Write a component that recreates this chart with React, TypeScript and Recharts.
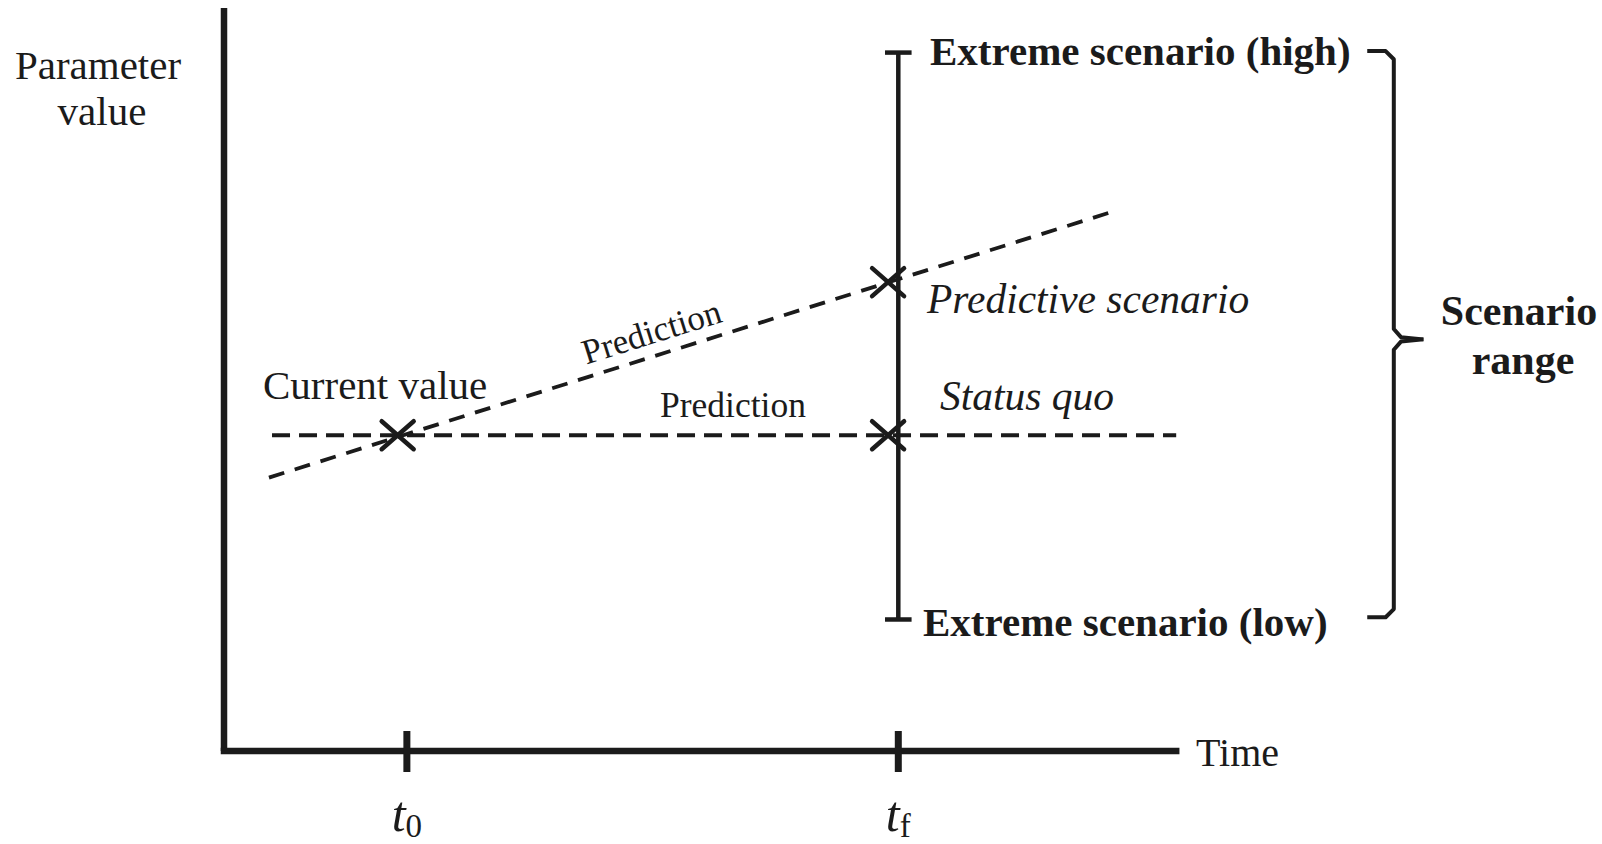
import React from 'react';
import { ComposedChart, Line, ReferenceLine, Scatter, XAxis, YAxis } from 'recharts';

// time axis: the two marked instants
const timeTicks = [1.79, 6.6];
const timeTickSubs = ['0', 'f'];

// dashed lines
const statusQuo = [
  { x: 0.47, y: 42.5 },
  { x: 9.32, y: 42.5 },
];
const prediction = [
  { x: 0.44, y: 36.8 },
  { x: 8.7, y: 72.6 },
];

// the x marks (current value, predictive scenario, status quo at tf)
const markers = [
  { x: 1.7, y: 42.5 },
  { x: 6.5, y: 63.1 },
  { x: 6.5, y: 42.5 },
];

// extreme scenarios at tf (low, high)
const scenarioRange = [
  { x: 6.6, y: 17.7 },
  { x: 6.6, y: 94.0 },
];

// curly brace for the scenario range
const braceUpper = [
  { x: 11.19, y: 94.2 },
  { x: 11.37, y: 94.2 },
  { x: 11.45, y: 93.1 },
  { x: 11.45, y: 56.8 },
  { x: 11.52, y: 55.7 },
  { x: 11.74, y: 55.4 },
];
const braceLower = [
  { x: 11.19, y: 18.0 },
  { x: 11.37, y: 18.0 },
  { x: 11.45, y: 19.1 },
  { x: 11.45, y: 54.0 },
  { x: 11.52, y: 55.1 },
  { x: 11.74, y: 55.4 },
];

const timeAxisEnd = 9.32;

const INK = '#1b1b1b';
const SERIF = '"Liberation Serif", "DejaVu Serif", serif';

const Cross = (props: any) => {
  const { cx, cy } = props;
  return (
    <g stroke={INK} strokeWidth={4.5} strokeLinecap='round'>
      <line x1={cx - 16} y1={cy - 14} x2={cx + 16} y2={cy + 14} />
      <line x1={cx - 16} y1={cy + 14} x2={cx + 16} y2={cy - 14} />
    </g>
  );
};

const TimeTick = (props: any) => {
  const { x, y, index } = props;
  return (
    <g>
      <line x1={x} y1={y - 20} x2={x} y2={y + 21} stroke={INK} strokeWidth={7} />
      <text
        x={x}
        y={y + 80}
        textAnchor='middle'
        fontFamily={SERIF}
        fontSize={50}
        fill={INK}
      >
        <tspan fontStyle='italic'>t</tspan>
        <tspan fontSize={33} dy={6}>
          {timeTickSubs[index]}
        </tspan>
      </text>
    </g>
  );
};

const App = () => {
  const capHalf = 0.13;
  const low = scenarioRange[0];
  const high = scenarioRange[1];

  return (
    <div style={{ position: 'absolute', left: 0, top: 0, width: 1602, height: 844, background: '#fff' }}>
      <ComposedChart
        width={1602}
        height={844}
        margin={{ top: 8, right: 152, bottom: 33, left: 224 }}
      >
        <XAxis
          dataKey='x'
          type='number'
          domain={[0, 12]}
          ticks={timeTicks}
          axisLine={false}
          tickLine={false}
          tickSize={0}
          tickMargin={0}
          height={60}
          tick={<TimeTick />}
          interval={0}
        />
        <YAxis type='number' domain={[0, 100]} hide />

        {/* parameter value axis */}
        <ReferenceLine x={0} stroke={INK} strokeWidth={6.5} ifOverflow='visible' />
        {/* time axis line */}
        <ReferenceLine
          segment={[
            { x: 0, y: 0 },
            { x: timeAxisEnd, y: 0 },
          ]}
          stroke={INK}
          strokeWidth={6.5}
          strokeLinecap='square'
          ifOverflow='visible'
        />

        {/* scenario range at tf */}
        <ReferenceLine segment={[low, high]} stroke={INK} strokeWidth={4.5} ifOverflow='visible' />
        <ReferenceLine
          segment={[
            { x: low.x - capHalf, y: low.y },
            { x: low.x + capHalf, y: low.y },
          ]}
          stroke={INK}
          strokeWidth={4.5}
          ifOverflow='visible'
        />
        <ReferenceLine
          segment={[
            { x: high.x - capHalf, y: high.y },
            { x: high.x + capHalf, y: high.y },
          ]}
          stroke={INK}
          strokeWidth={4.5}
          ifOverflow='visible'
        />

        <Line
          data={statusQuo}
          dataKey='y'
          stroke={INK}
          strokeWidth={3.8}
          strokeDasharray='18 9'
          dot={false}
          activeDot={false}
          isAnimationActive={false}
        />
        <Line
          data={prediction}
          dataKey='y'
          stroke={INK}
          strokeWidth={3.8}
          strokeDasharray='16 11'
          dot={false}
          activeDot={false}
          isAnimationActive={false}
        />
        <Line
          data={braceUpper}
          dataKey='y'
          stroke={INK}
          strokeWidth={4}
          strokeLinejoin='round'
          dot={false}
          activeDot={false}
          isAnimationActive={false}
        />
        <Line
          data={braceLower}
          dataKey='y'
          stroke={INK}
          strokeWidth={4}
          strokeLinejoin='round'
          dot={false}
          activeDot={false}
          isAnimationActive={false}
        />
        <Scatter data={markers} dataKey='y' shape={<Cross />} isAnimationActive={false} />
      </ComposedChart>

      <svg
        width={1602}
        height={844}
        style={{ position: 'absolute', left: 0, top: 0, pointerEvents: 'none' }}
        fontFamily={SERIF}
        fill={INK}
      >
        <text x={98} y={79} fontSize={41} textAnchor='middle'>Parameter</text>
        <text x={102} y={125} fontSize={41} textAnchor='middle'>value</text>
        <text x={1196} y={766} fontSize={40}>Time</text>

        <text x={263} y={399} fontSize={41}>Current value</text>
        <text x={660} y={417} fontSize={35.5}>Prediction</text>
        <text x={655} y={343} fontSize={35} textAnchor='middle' transform='rotate(-17.4 655 343)'>
          Prediction
        </text>

        <text x={927} y={313} fontSize={41.5} fontStyle='italic'>Predictive scenario</text>
        <text x={940} y={410} fontSize={41.5} fontStyle='italic'>Status quo</text>

        <text x={930} y={65} fontSize={41} fontWeight='bold'>Extreme scenario (high)</text>
        <text x={923} y={636} fontSize={41} fontWeight='bold'>Extreme scenario (low)</text>

        <text x={1519} y={325} fontSize={42} fontWeight='bold' textAnchor='middle'>Scenario</text>
        <text x={1523} y={374} fontSize={42} fontWeight='bold' textAnchor='middle'>range</text>
      </svg>
    </div>
  );
};

export default App;
